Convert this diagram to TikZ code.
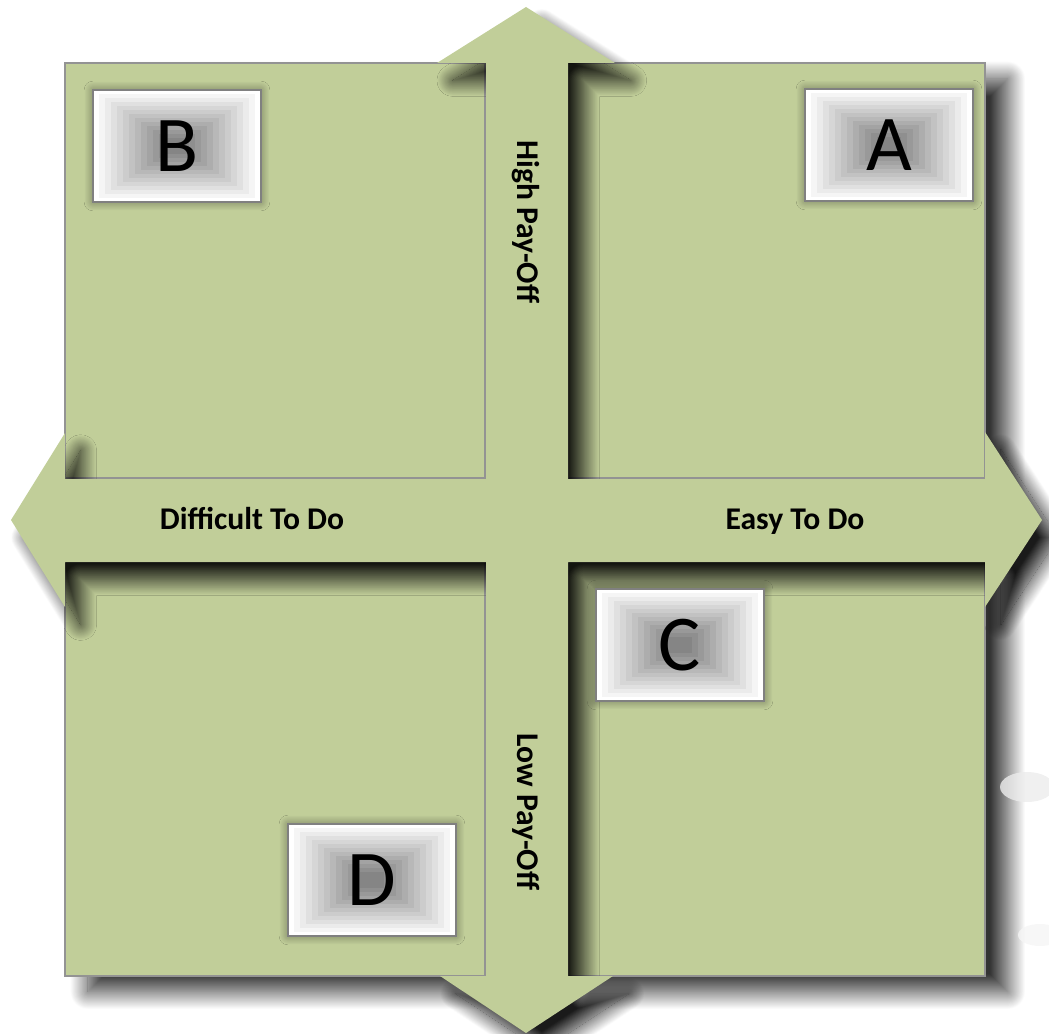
\documentclass[tikz,border=0pt]{standalone}
\usepackage{fontspec}
\setmainfont{Carlito}
\usetikzlibrary{shadows.blur}
\definecolor{quadgreen}{RGB}{193,206,153}

\begin{document}
\begin{tikzpicture}[x=0.02cm, y=-0.02cm]
\tikzset{quad/.style={fill=quadgreen, draw=gray!85, line width=0.7pt,
  blur shadow={shadow xshift=13pt, shadow yshift=-9pt, shadow blur radius=10pt, shadow blur steps=40, shadow opacity=80}}}
\tikzset{crossarrow/.style={fill=quadgreen,
  blur shadow={shadow xshift=9pt, shadow yshift=-10pt, shadow blur radius=9pt, shadow blur steps=40, shadow opacity=90}}}
\tikzset{glowbox/.style={fill=white, blur shadow={shadow xshift=0pt, shadow yshift=0pt, shadow blur radius=5pt, shadow blur steps=25, shadow opacity=45}}}
\tikzset{axislabel/.style={font=\bfseries\fontsize{18}{21}\selectfont, inner sep=0pt}}
\tikzset{letter/.style={font=\fontsize{45}{50}\selectfont, inner sep=0pt}}
\useasboundingbox (0,0) rectangle (1049,1034);
\clip (0,0) rectangle (1049,1034);

% quadrants
\path[quad] (65,63) rectangle (485,478);
\path[quad] (568,63) rectangle (985,478);
\path[quad] (65,562) rectangle (485,976);
\path[quad] (568,562) rectangle (985,976);

% faint reflections on the right
\fill[gray!15, opacity=0.8] (1027,787) ellipse (27 and 15);
\fill[gray!8, opacity=0.8] (1040,935) ellipse (22 and 11);

% the cross of arrows
\path[crossarrow] (526,7) -- (615,63) -- (568,63) -- (568,479) -- (985,479)
  -- (985,432) -- (1042,520) -- (985,607) -- (985,562) -- (568,562)
  -- (568,976) -- (613,976) -- (526,1033) -- (440,976) -- (486,976)
  -- (486,562) -- (65,562) -- (65,607) -- (11,520) -- (65,433)
  -- (65,479) -- (486,479) -- (486,63) -- (437,63) -- cycle;

\node[axislabel, rotate=-90] (high) at (526,222) {High Pay-Off};
\node[axislabel, rotate=-90] (low) at (526,812) {Low Pay-Off};
\node[axislabel, anchor=base] (difficult) at (252,529) {Difficult To Do};
\node[axislabel, anchor=base] (easy) at (795,529) {Easy To Do};

% letter boxes
\foreach \name/\cx/\cy/\txt in {boxB/177/146/B, boxA/889/145/A, boxC/680/645/C, boxD/372/880/D} {
  \path[glowbox] (\cx-84,\cy-56) rectangle (\cx+84,\cy+56);
  \foreach \i [evaluate=\i as \shade using int(4*\i)] in {1,...,12}
    \fill[black!\shade] (\cx-84+\i*6,\cy-56+\i*4) rectangle (\cx+84-\i*6,\cy+56-\i*4);
  \draw[gray, line width=0.8pt] (\cx-84,\cy-56) rectangle (\cx+84,\cy+56);
  \node[letter] (\name) at (\cx,\cy) {\txt};
}
\end{tikzpicture}
\end{document}
